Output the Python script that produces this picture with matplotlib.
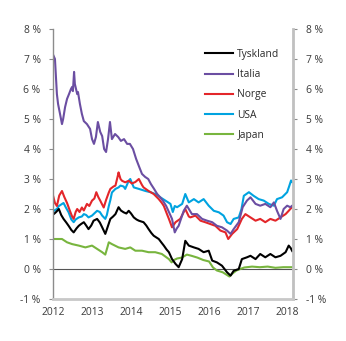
import matplotlib
matplotlib.use("Agg")
import matplotlib.pyplot as plt
from matplotlib.ticker import FixedLocator, FuncFormatter

plt.rcParams['font.family'] = ['Open Sans', 'DejaVu Sans']

# ---- data (decimal years, percent) ----
tyskland_t = [2012.00, 2012.02, 2012.08, 2012.15, 2012.21, 2012.27, 2012.34, 2012.40, 2012.47, 2012.53,
              2012.60, 2012.66, 2012.72, 2012.79, 2012.85, 2012.91, 2012.98, 2013.04, 2013.13, 2013.20,
              2013.26, 2013.34, 2013.40, 2013.47, 2013.54, 2013.60, 2013.68, 2013.74, 2013.81, 2013.88,
              2013.94, 2014.00, 2014.07, 2014.14, 2014.20, 2014.27, 2014.32, 2014.39, 2014.45, 2014.52,
              2014.58, 2014.65, 2014.71, 2014.78, 2014.84, 2014.91, 2014.97, 2015.05, 2015.14, 2015.22,
              2015.31, 2015.39, 2015.48, 2015.61, 2015.73, 2015.86, 2015.99, 2016.08, 2016.20, 2016.33,
              2016.46, 2016.55, 2016.63, 2016.76, 2016.84, 2016.97, 2017.06, 2017.19, 2017.31, 2017.44,
              2017.57, 2017.70, 2017.83, 2017.96, 2018.04, 2018.09, 2018.13]
tyskland_v = [1.85, 1.83, 1.90, 2.00, 1.80, 1.67, 1.55, 1.44, 1.30, 1.22,
              1.35, 1.44, 1.50, 1.56, 1.45, 1.33, 1.45, 1.61, 1.67, 1.55,
              1.39, 1.17, 1.40, 1.67, 1.75, 1.83, 2.06, 1.95, 1.89, 1.85,
              1.94, 1.85, 1.72, 1.65, 1.61, 1.58, 1.56, 1.45, 1.33, 1.20,
              1.11, 1.05, 1.00, 0.88, 0.78, 0.65, 0.56, 0.33, 0.17, 0.06,
              0.33, 0.94, 0.78, 0.72, 0.67, 0.56, 0.61, 0.28, 0.22, 0.11,
              -0.11, -0.22, -0.06, 0.00, 0.33, 0.39, 0.44, 0.33, 0.50, 0.39,
              0.50, 0.39, 0.44, 0.56, 0.78, 0.70, 0.60]

italia_t = [2012.00, 2012.05, 2012.10, 2012.13, 2012.18, 2012.23, 2012.26, 2012.31, 2012.36, 2012.41,
            2012.46, 2012.49, 2012.51, 2012.54, 2012.56, 2012.62, 2012.64, 2012.69, 2012.74, 2012.79,
            2012.87, 2012.95, 2013.00, 2013.05, 2013.10, 2013.15, 2013.21, 2013.26, 2013.31, 2013.36,
            2013.41, 2013.46, 2013.51, 2013.59, 2013.67, 2013.74, 2013.82, 2013.90, 2013.97, 2014.05,
            2014.13, 2014.21, 2014.28, 2014.36, 2014.44, 2014.51, 2014.59, 2014.67, 2014.74, 2014.82,
            2014.90, 2014.97, 2015.05, 2015.12, 2015.17, 2015.22, 2015.35, 2015.43, 2015.56, 2015.69,
            2015.82, 2015.95, 2016.08, 2016.20, 2016.33, 2016.46, 2016.55, 2016.63, 2016.76, 2016.86,
            2016.97, 2017.06, 2017.19, 2017.31, 2017.44, 2017.57, 2017.66, 2017.74, 2017.83, 2017.91,
            2018.00, 2018.08, 2018.13]
italia_v = [7.15, 7.00, 5.83, 5.50, 5.17, 4.83, 5.00, 5.40, 5.67, 5.83,
            6.00, 6.07, 5.93, 6.57, 6.17, 5.83, 5.90, 5.50, 5.17, 4.93,
            4.83, 4.67, 4.33, 4.17, 4.40, 4.90, 4.57, 4.43, 4.00, 3.90,
            4.33, 4.90, 4.33, 4.50, 4.40, 4.27, 4.33, 4.17, 4.17, 4.00,
            3.67, 3.40, 3.17, 3.07, 3.00, 2.83, 2.67, 2.50, 2.40, 2.27,
            2.10, 1.90, 1.67, 1.22, 1.35, 1.44, 1.94, 2.11, 1.83, 1.83,
            1.67, 1.61, 1.56, 1.44, 1.39, 1.28, 1.17, 1.33, 1.56, 2.06,
            2.28, 2.39, 2.17, 2.11, 2.17, 2.06, 2.22, 1.94, 1.67, 2.00,
            2.11, 2.06, 2.11]

norge_t = [2012.00, 2012.05, 2012.10, 2012.16, 2012.23, 2012.29, 2012.36, 2012.43, 2012.49, 2012.53,
           2012.58, 2012.62, 2012.68, 2012.74, 2012.79, 2012.87, 2012.93, 2013.00, 2013.06, 2013.11,
           2013.16, 2013.21, 2013.26, 2013.30, 2013.36, 2013.43, 2013.47, 2013.55, 2013.60, 2013.66,
           2013.68, 2013.73, 2013.77, 2013.85, 2013.94, 2014.02, 2014.11, 2014.20, 2014.28, 2014.32,
           2014.45, 2014.58, 2014.71, 2014.79, 2014.84, 2014.93, 2014.97, 2015.05, 2015.14, 2015.26,
           2015.39, 2015.48, 2015.52, 2015.65, 2015.78, 2015.90, 2016.03, 2016.16, 2016.29, 2016.42,
           2016.49, 2016.59, 2016.72, 2016.84, 2016.93, 2017.06, 2017.19, 2017.31, 2017.44, 2017.57,
           2017.70, 2017.83, 2017.96, 2018.04, 2018.08, 2018.13]
norge_v = [2.45, 2.20, 2.10, 2.45, 2.60, 2.40, 2.20, 1.95, 1.75, 1.67,
           1.90, 2.00, 1.90, 2.05, 1.95, 2.17, 2.10, 2.28, 2.35, 2.56,
           2.40, 2.28, 2.15, 2.05, 2.30, 2.55, 2.67, 2.75, 2.78, 3.10,
           3.22, 3.00, 2.94, 2.89, 2.94, 2.85, 2.90, 3.00, 2.80, 2.72,
           2.60, 2.50, 2.33, 2.20, 2.10, 1.80, 1.67, 1.39, 1.56, 1.67,
           2.00, 1.75, 1.72, 1.78, 1.61, 1.56, 1.50, 1.44, 1.28, 1.22,
           1.00, 1.17, 1.33, 1.67, 1.83, 1.72, 1.61, 1.67, 1.56, 1.67,
           1.61, 1.72, 1.83, 1.94, 2.00, 2.06]

usa_t = [2012.00, 2012.02, 2012.10, 2012.15, 2012.27, 2012.33, 2012.40, 2012.47, 2012.53, 2012.58,
         2012.66, 2012.74, 2012.79, 2012.85, 2012.91, 2013.00, 2013.04, 2013.13, 2013.20, 2013.26,
         2013.34, 2013.38, 2013.43, 2013.47, 2013.51, 2013.60, 2013.68, 2013.73, 2013.81, 2013.85,
         2013.94, 2013.98, 2014.07, 2014.20, 2014.37, 2014.50, 2014.62, 2014.75, 2014.88, 2015.01,
         2015.07, 2015.12, 2015.18, 2015.31, 2015.39, 2015.48, 2015.61, 2015.73, 2015.86, 2015.99,
         2016.12, 2016.25, 2016.37, 2016.46, 2016.55, 2016.63, 2016.76, 2016.83, 2016.89, 2017.02,
         2017.14, 2017.27, 2017.40, 2017.53, 2017.66, 2017.74, 2017.87, 2018.00, 2018.05, 2018.10,
         2018.13]
usa_v = [1.85, 1.94, 2.00, 2.10, 2.20, 2.05, 1.89, 1.65, 1.56, 1.65,
         1.72, 1.75, 1.83, 1.80, 1.72, 1.78, 1.83, 1.94, 1.90, 1.78,
         1.67, 1.80, 2.10, 2.30, 2.55, 2.67, 2.72, 2.78, 2.75, 2.67,
         2.94, 3.00, 2.72, 2.67, 2.60, 2.56, 2.50, 2.39, 2.28, 2.17,
         1.90, 2.10, 2.06, 2.17, 2.50, 2.22, 2.33, 2.22, 2.33, 2.11,
         1.94, 1.89, 1.78, 1.56, 1.50, 1.67, 1.72, 2.00, 2.44, 2.56,
         2.44, 2.33, 2.28, 2.17, 2.11, 2.33, 2.39, 2.56, 2.75, 2.95,
         2.90]

japan_t = [2012.00, 2012.23, 2012.36, 2012.49, 2012.66, 2012.83, 2013.00, 2013.13, 2013.26, 2013.34,
           2013.40, 2013.43, 2013.51, 2013.68, 2013.85, 2013.98, 2014.11, 2014.28, 2014.45, 2014.62,
           2014.79, 2014.97, 2015.04, 2015.10, 2015.18, 2015.30, 2015.43, 2015.55, 2015.70, 2015.85,
           2016.00, 2016.10, 2016.20, 2016.35, 2016.52, 2016.60, 2016.70, 2016.80, 2016.90, 2017.10,
           2017.30, 2017.50, 2017.70, 2017.90, 2018.13]
japan_v = [1.00, 1.00, 0.89, 0.83, 0.78, 0.72, 0.78, 0.67, 0.56, 0.48,
           0.75, 0.89, 0.83, 0.72, 0.67, 0.72, 0.61, 0.61, 0.56, 0.56,
           0.50, 0.33, 0.22, 0.30, 0.35, 0.38, 0.48, 0.44, 0.38, 0.30,
           0.25, 0.05, -0.05, -0.11, -0.25, -0.15, -0.05, 0.00, 0.05, 0.08,
           0.06, 0.08, 0.04, 0.06, 0.06]

series = [("Tyskland", tyskland_t, tyskland_v, "#000000"),
          ("Italia", italia_t, italia_v, "#6B4EA2"),
          ("Norge", norge_t, norge_v, "#E3262A"),
          ("USA", usa_t, usa_v, "#00A3E0"),
          ("Japan", japan_t, japan_v, "#78B53E")]

year_ticks = [2012, 2013, 2014, 2015, 2016, 2017, 2018]
pct_ticks = [-1, 0, 1, 2, 3, 4, 5, 6, 7, 8]

# ---- figure ----
fig = plt.figure(figsize=(3.46, 3.41), dpi=100)
ax = fig.add_axes([53/346, 1-299/341, 240/346, 270/341])

for name, t, v, c in reversed(series):
    ax.plot(t, v, color=c, lw=1.5, label=name, solid_joinstyle='round')

ax.axhline(0, color="#555555", lw=0.8, zorder=0.5)

ax.set_xlim(2012.0, 2018.15)
ax.set_ylim(-1, 8)
ax.xaxis.set_major_locator(FixedLocator(year_ticks))
ax.xaxis.set_major_formatter(FuncFormatter(lambda x, p: f"{int(round(x))}"))
ax.yaxis.set_major_locator(FixedLocator(pct_ticks))
ax.yaxis.set_major_formatter(FuncFormatter(lambda y, p: f"{int(round(y))} %"))

ax.spines['top'].set_visible(False)
ax.spines['left'].set_color("#8c8c8c")
ax.spines['left'].set_linewidth(1.0)
ax.spines['right'].set_color("#c0c0c0")
ax.spines['right'].set_linewidth(2.0)
ax.spines['bottom'].set_color("#c8c8c8")
ax.spines['bottom'].set_linewidth(2.0)

ax.tick_params(axis='y', which='both', left=True, right=True, labelleft=True, labelright=True,
               direction='out', length=3, width=0.8, color="#8c8c8c",
               labelsize=7.4, labelcolor="#3a3a3a", pad=6)
ax.tick_params(axis='x', length=0, labelsize=7.4, labelcolor="#3a3a3a", pad=6)

handles, labels = ax.get_legend_handles_labels()
order = [labels.index(n) for n, *_ in series]
leg = ax.legend([handles[i] for i in order], [labels[i] for i in order],
                loc='upper left', bbox_to_anchor=(205/346, 1-49/341), bbox_transform=fig.transFigure,
                frameon=False, fontsize=7.4, handlelength=2.7, handletextpad=0.45,
                labelspacing=0.9, borderpad=0, borderaxespad=0)
for txt in leg.get_texts():
    txt.set_color("#2a2a2a")

fig.savefig("out.png", dpi=100)
